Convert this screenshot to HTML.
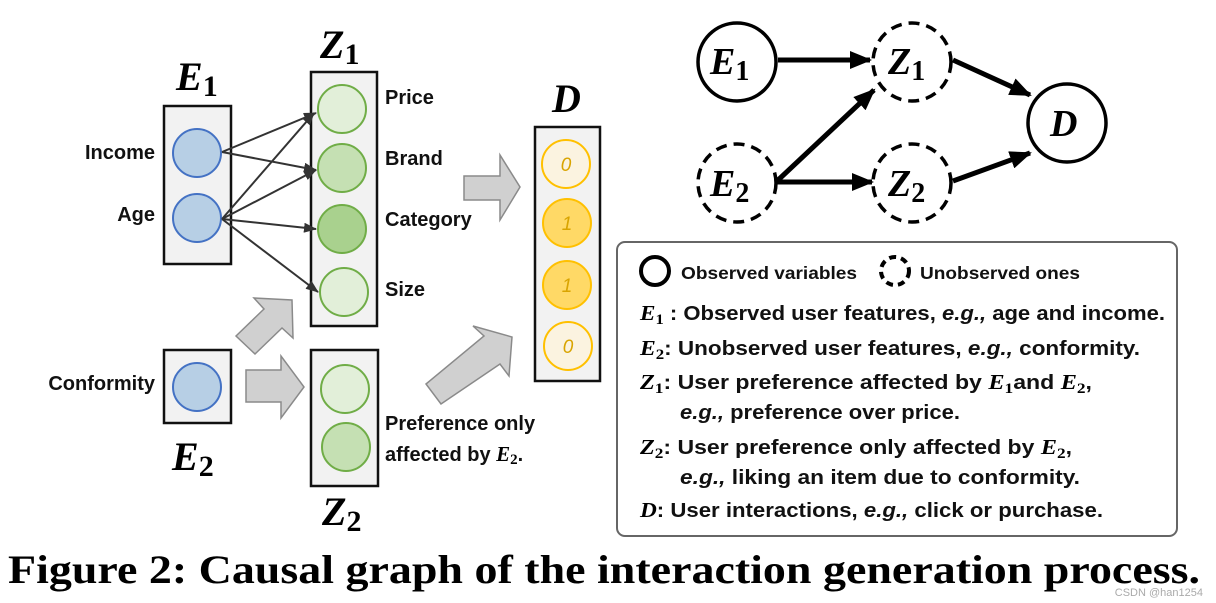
<!DOCTYPE html>
<html><head><meta charset="utf-8"><style>
html,body{margin:0;padding:0;background:#fff;width:1216px;height:603px;overflow:hidden}
svg{display:block}
.lab{font-family:"Liberation Sans",sans-serif;font-weight:bold;font-size:20px;fill:#111}
.m{font-family:"Liberation Serif",serif;font-weight:bold;font-style:italic;fill:#000}
.sub{font-family:"Liberation Serif",serif;font-weight:bold;font-style:normal;fill:#000}
.lg{font-family:"Liberation Sans Narrow","Liberation Sans",sans-serif;font-size:20px;font-weight:bold;fill:#111}
</style></head><body>
<svg width="1216" height="603" viewBox="0 0 1216 603" xmlns="http://www.w3.org/2000/svg">
<defs>
<marker id="ah" markerWidth="13" markerHeight="10" refX="12" refY="5" orient="auto" markerUnits="userSpaceOnUse"><path d="M0,0 L13,5 L0,10 z" fill="#333"/></marker>
<marker id="bh" markerWidth="22" markerHeight="18" refX="20" refY="9" orient="auto" markerUnits="userSpaceOnUse"><path d="M0,0 L22,9 L0,18 z" fill="#000"/></marker>
</defs>

<rect x="164" y="106" width="67" height="158" fill="#f2f2f2" stroke="#111" stroke-width="2.5"/>
<rect x="311" y="72" width="66" height="254" fill="#f2f2f2" stroke="#111" stroke-width="2.5"/>
<rect x="311" y="350" width="67" height="136" fill="#f2f2f2" stroke="#111" stroke-width="2.5"/>
<rect x="164" y="350" width="67" height="73" fill="#f2f2f2" stroke="#111" stroke-width="2.5"/>
<rect x="535" y="127" width="65" height="254" fill="#f2f2f2" stroke="#111" stroke-width="2.5"/>

<circle cx="197" cy="153" r="24" fill="#b7cfe5" stroke="#4472c4" stroke-width="2"/>
<circle cx="197" cy="218" r="24" fill="#b7cfe5" stroke="#4472c4" stroke-width="2"/>
<circle cx="197" cy="387" r="24" fill="#b7cfe5" stroke="#4472c4" stroke-width="2"/>

<circle cx="342" cy="109" r="24" fill="#e2efd9" stroke="#70ad47" stroke-width="2"/>
<circle cx="342" cy="168" r="24" fill="#c5e0b3" stroke="#70ad47" stroke-width="2"/>
<circle cx="342" cy="229" r="24" fill="#a9d18e" stroke="#70ad47" stroke-width="2"/>
<circle cx="344" cy="292" r="24" fill="#e2efd9" stroke="#70ad47" stroke-width="2"/>
<circle cx="345" cy="389" r="24" fill="#e2efd9" stroke="#70ad47" stroke-width="2"/>
<circle cx="346" cy="447" r="24" fill="#c5e0b3" stroke="#70ad47" stroke-width="2"/>

<g font-family="Liberation Sans,sans-serif" font-style="italic" font-size="19" text-anchor="middle">
<circle cx="566" cy="164" r="24" fill="#fbf3e0" stroke="#ffc000" stroke-width="2"/>
<text x="566" y="171" fill="#d9a400">0</text>
<circle cx="567" cy="223" r="24" fill="#ffd966" stroke="#ffc000" stroke-width="2"/>
<text x="567" y="230" fill="#d9a400">1</text>
<circle cx="567" cy="285" r="24" fill="#ffd966" stroke="#ffc000" stroke-width="2"/>
<text x="567" y="292" fill="#d9a400">1</text>
<circle cx="568" cy="346" r="24" fill="#fbf3e0" stroke="#ffc000" stroke-width="2"/>
<text x="568" y="353" fill="#d9a400">0</text>
</g>

<g stroke="#333" stroke-width="2" marker-end="url(#ah)">
<line x1="222" y1="152" x2="316" y2="113"/>
<line x1="222" y1="152" x2="316" y2="170"/>
<line x1="222" y1="219" x2="314" y2="113"/>
<line x1="222" y1="219" x2="316" y2="170"/>
<line x1="222" y1="219" x2="316" y2="229"/>
<line x1="222" y1="219" x2="318" y2="292"/>
</g>

<g fill="#d0d0d0" stroke="#8a8a8a" stroke-width="1.5">
<polygon points="464,176 500,176 500,155 520,187 500,220 500,200 464,200"/>
<polygon points="246,370 281,370 281,356 304,387 281,418 281,402 246,402"/>
<polygon points="236,336 264,309 254,298 292,300 293,338 282,328 255,354"/>
<polygon points="426,384 484,336 473,326 512,337 509,376 500,364 441,404"/>
</g>

<g class="lab" text-anchor="end">
<text x="155" y="159">Income</text>
<text x="155" y="221">Age</text>
<text x="155" y="390">Conformity</text>
</g>
<g class="lab">
<text x="385" y="104">Price</text>
<text x="385" y="165">Brand</text>
<text x="385" y="226">Category</text>
<text x="385" y="296">Size</text>
<text x="385" y="430">Preference only</text>
<text x="385" y="461">affected by <tspan class="m" font-size="21">E</tspan><tspan class="sub" font-size="15" dy="3">2</tspan><tspan dy="-3">.</tspan></text>
</g>

<text x="176" y="90" class="m" font-size="40">E<tspan class="sub" font-size="30" dy="6">1</tspan></text>
<text x="320" y="58" class="m" font-size="40">Z<tspan class="sub" font-size="30" dy="6">1</tspan></text>
<text x="552" y="112" class="m" font-size="40">D</text>
<text x="172" y="470" class="m" font-size="40">E<tspan class="sub" font-size="30" dy="6">2</tspan></text>
<text x="322" y="525" class="m" font-size="40">Z<tspan class="sub" font-size="30" dy="6">2</tspan></text>

<g fill="#fff" stroke="#000" stroke-width="3.5">
<circle cx="737" cy="62" r="39"/>
<circle cx="912" cy="62" r="39" stroke-dasharray="11,7"/>
<circle cx="1067" cy="123" r="39"/>
<circle cx="737" cy="183" r="39" stroke-dasharray="11,7"/>
<circle cx="912" cy="183" r="39" stroke-dasharray="11,7"/>
</g>
<g stroke="#000" stroke-width="5" marker-end="url(#bh)">
<line x1="778" y1="60" x2="870" y2="60"/>
<line x1="776" y1="182" x2="874" y2="90"/>
<line x1="776" y1="182" x2="872" y2="182"/>
<line x1="953" y1="60" x2="1030" y2="95"/>
<line x1="953" y1="181" x2="1030" y2="153"/>
</g>
<g class="m" font-size="38">
<text x="710" y="74">E<tspan class="sub" font-size="28" dy="6">1</tspan></text>
<text x="888" y="74">Z<tspan class="sub" font-size="28" dy="6">1</tspan></text>
<text x="1050" y="136">D</text>
<text x="710" y="196">E<tspan class="sub" font-size="28" dy="6">2</tspan></text>
<text x="888" y="196">Z<tspan class="sub" font-size="28" dy="6">2</tspan></text>
</g>

<rect x="617" y="242" width="560" height="294" rx="8" fill="#fff" stroke="#666" stroke-width="2"/>
<circle cx="655" cy="271" r="14" fill="none" stroke="#000" stroke-width="4"/>
<circle cx="895" cy="271" r="14" fill="none" stroke="#000" stroke-width="4" stroke-dasharray="7,5"/>
<g class="lg">
<text x="681" y="279" font-size="17.5" textLength="176" lengthAdjust="spacingAndGlyphs">Observed variables</text>
<text x="920" y="279" font-size="17.5" textLength="160" lengthAdjust="spacingAndGlyphs">Unobserved ones</text>
<text x="640" y="320" textLength="525" lengthAdjust="spacingAndGlyphs"><tspan class="m" font-size="21">E</tspan><tspan class="sub" font-size="15" dy="4">1</tspan><tspan dy="-4"> : Observed user features, <tspan font-style="italic">e.g.,</tspan> age and income.</tspan></text>
<text x="640" y="355" textLength="500" lengthAdjust="spacingAndGlyphs"><tspan class="m" font-size="21">E</tspan><tspan class="sub" font-size="15" dy="4">2</tspan><tspan dy="-4">: Unobserved user features, <tspan font-style="italic">e.g.,</tspan> conformity.</tspan></text>
<text x="640" y="389" textLength="452" lengthAdjust="spacingAndGlyphs"><tspan class="m" font-size="21">Z</tspan><tspan class="sub" font-size="15" dy="4">1</tspan><tspan dy="-4">: User preference affected by </tspan><tspan class="m" font-size="21">E</tspan><tspan class="sub" font-size="15" dy="4">1</tspan><tspan dy="-4">and </tspan><tspan class="m" font-size="21">E</tspan><tspan class="sub" font-size="15" dy="4">2</tspan><tspan dy="-4">,</tspan></text>
<text x="680" y="419" textLength="280" lengthAdjust="spacingAndGlyphs"><tspan font-style="italic">e.g.,</tspan> preference over price.</text>
<text x="640" y="454" textLength="432" lengthAdjust="spacingAndGlyphs"><tspan class="m" font-size="21">Z</tspan><tspan class="sub" font-size="15" dy="4">2</tspan><tspan dy="-4">: User preference only affected by </tspan><tspan class="m" font-size="21">E</tspan><tspan class="sub" font-size="15" dy="4">2</tspan><tspan dy="-4">,</tspan></text>
<text x="680" y="484" textLength="400" lengthAdjust="spacingAndGlyphs"><tspan font-style="italic">e.g.,</tspan> liking an item due to conformity.</text>
<text x="640" y="517" textLength="463" lengthAdjust="spacingAndGlyphs"><tspan class="m" font-size="21">D</tspan>:  User interactions, <tspan font-style="italic">e.g.,</tspan> click or purchase.</text>
</g>

<text x="8" y="583" font-family="Liberation Serif,serif" font-weight="bold" font-size="40" fill="#000" textLength="1192" lengthAdjust="spacingAndGlyphs">Figure 2: Causal graph of the interaction generation process.</text>
<text x="1203" y="596" font-family="Liberation Sans,sans-serif" font-size="11" fill="#aaa" text-anchor="end">CSDN @han1254</text>
</svg>
</body></html>
